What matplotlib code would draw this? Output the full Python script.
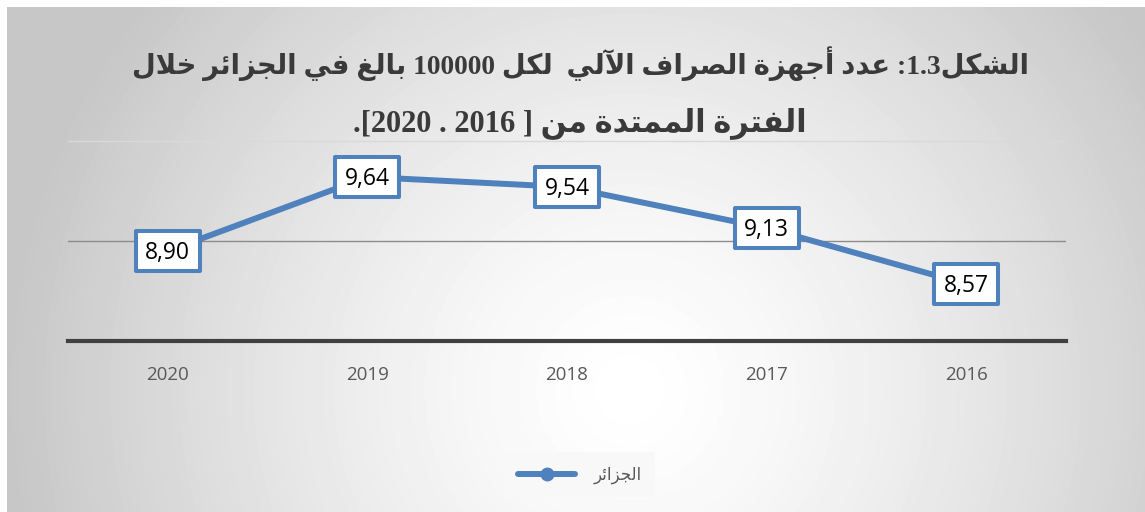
import numpy as np
import matplotlib
matplotlib.use("Agg")
import matplotlib.pyplot as plt
from matplotlib.path import Path
from matplotlib.markers import MarkerStyle

# ---------------- data ----------------
years = ["2020", "2019", "2018", "2017", "2016"]
values = [8.90, 9.64, 9.54, 9.13, 8.57]
value_labels = ["8,90", "9,64", "9,54", "9,13", "8,57"]
series_name = "الجزائر"
title_line1 = ["الشكل", "1.3", ":", " ", "عدد", " ", "أجهزة", " ", "الصراف", " ", "الآلي", "  ",
               "لكل", " ", "100000", " ", "بالغ", " ", "في", " ", "الجزائر", " ", "خلال"]
title_line2 = ["الفترة", " ", "الممتدة", " ", "من", " ", "]", " ", "2016", " . ", "2020", "[", "."]
y_ticks = [8, 9, 10]

# ---------------- minimal Arabic shaping (presentation forms) ----------------
FORMS = {
    "ا": (0xFE8D, 0xFE8E), "أ": (0xFE83, 0xFE84), "آ": (0xFE81, 0xFE82), "إ": (0xFE87, 0xFE88),
    "ب": (0xFE8F, 0xFE90, 0xFE91, 0xFE92), "ة": (0xFE93, 0xFE94),
    "ت": (0xFE95, 0xFE96, 0xFE97, 0xFE98), "ج": (0xFE9D, 0xFE9E, 0xFE9F, 0xFEA0),
    "خ": (0xFEA5, 0xFEA6, 0xFEA7, 0xFEA8), "د": (0xFEA9, 0xFEAA), "ر": (0xFEAD, 0xFEAE),
    "ز": (0xFEAF, 0xFEB0), "ش": (0xFEB5, 0xFEB6, 0xFEB7, 0xFEB8),
    "ص": (0xFEB9, 0xFEBA, 0xFEBB, 0xFEBC), "ع": (0xFEC9, 0xFECA, 0xFECB, 0xFECC),
    "غ": (0xFECD, 0xFECE, 0xFECF, 0xFED0), "ف": (0xFED1, 0xFED2, 0xFED3, 0xFED4),
    "ك": (0xFED9, 0xFEDA, 0xFEDB, 0xFEDC), "ل": (0xFEDD, 0xFEDE, 0xFEDF, 0xFEE0),
    "م": (0xFEE1, 0xFEE2, 0xFEE3, 0xFEE4), "ن": (0xFEE5, 0xFEE6, 0xFEE7, 0xFEE8),
    "ه": (0xFEE9, 0xFEEA, 0xFEEB, 0xFEEC), "ي": (0xFEF1, 0xFEF2, 0xFEF3, 0xFEF4),
    "ئ": (0xFE89, 0xFE8A, 0xFE8B, 0xFE8C), "و": (0xFEED, 0xFEEE),
}
LAMALEF = {"آ": (0xFEF5, 0xFEF6), "أ": (0xFEF7, 0xFEF8), "إ": (0xFEF9, 0xFEFA), "ا": (0xFEFB, 0xFEFC)}


def is_arabic(s):
    return any(c in FORMS for c in s)


def shape(word):
    res = []
    prev_joins = False
    i, n = 0, len(word)
    while i < n:
        c = word[i]
        if c == "ل" and i + 1 < n and word[i + 1] in LAMALEF:
            f = LAMALEF[word[i + 1]]
            res.append(chr(f[1] if prev_joins else f[0]))
            prev_joins = False
            i += 2
            continue
        if c in FORMS:
            f = FORMS[c]
            can_next = len(f) == 4 and i + 1 < n and word[i + 1] in FORMS
            if prev_joins and can_next:
                g = f[3]
            elif prev_joins:
                g = f[1]
            elif can_next:
                g = f[2]
            else:
                g = f[0]
            res.append(chr(g))
            prev_joins = len(f) == 4
        else:
            res.append(c)
            prev_joins = False
        i += 1
    return "".join(reversed(res))


def rtl(tokens):
    return "".join(shape(t) if is_arabic(t) else t for t in reversed(tokens))


# ---------------- figure ----------------
W, H = 1145, 512
fig = plt.figure(figsize=(W / 100, H / 100), dpi=100)
fig.patch.set_facecolor("white")

# radial gradient background
x0, y0 = 7, 7
bg = fig.add_axes([x0 / W, 0, 1 - x0 / W, 1 - y0 / H])
bg.axis("off")
yy, xx = np.mgrid[y0:H, x0:W]
cx, cy, sx, sy = 630, 390, 620, 620
d = np.clip(np.sqrt(((xx - cx) / sx) ** 2 + ((yy - cy) / sy) ** 2), 0, 1)
g = 1 - 0.22 * d ** 1.4
bg.imshow(g, cmap="gray", vmin=0, vmax=1, aspect="auto", extent=[0, 1, 0, 1], interpolation="bilinear")
bg.set_xlim(0, 1)
bg.set_ylim(0, 1)

# plot area
ax = fig.add_axes([68 / W, (H - 341) / H, (1066 - 68) / W, 200 / H])
ax.patch.set_alpha(0)
x = np.arange(len(years))
ax.set_xlim(-0.5, len(years) - 0.5)
ax.set_ylim(y_ticks[0], y_ticks[-1])
for s in ["top", "left", "right"]:
    ax.spines[s].set_visible(False)
ax.spines["bottom"].set_color("#404040")
ax.spines["bottom"].set_linewidth(3)
ax.set_yticks(y_ticks)
ax.set_yticklabels([])
ax.tick_params(axis="y", length=0)
ax.axhline(y_ticks[1], color="#8c8c8c", lw=1.0, zorder=1)
ax.axhline(y_ticks[2], color="#d9d9d9", lw=1.0, zorder=1, clip_on=False)

ax.set_xticks(x)
ax.set_xticklabels(years, fontsize=13.5, color="#595959", family="Open Sans")
ax.tick_params(axis="x", length=0, pad=18)

blue = "#4F81BD"
line, = ax.plot(x, values, color=blue, lw=4.3, marker="o", ms=9, zorder=3,
                solid_capstyle="round", label=shape(series_name))

rect = Path([(-1, -0.64), (1, -0.64), (1, 0.64), (-1, 0.64), (-1, -0.64)],
            [Path.MOVETO, Path.LINETO, Path.LINETO, Path.LINETO, Path.CLOSEPOLY])
ax.plot(x, values, ls="none", marker=MarkerStyle(rect, joinstyle="round"), ms=46,
        mfc="white", mec=blue, mew=2.9, zorder=4, clip_on=False)

label_fs = 16.5
for xi, v, lab in zip(x, values, value_labels):
    ax.annotate(lab, (xi, v), xytext=(0, -0.357 * label_fs), textcoords="offset points",
                ha="center", va="baseline", fontsize=label_fs, family="Open Sans",
                color="black", zorder=5, annotation_clip=False)

# title
title_kw = dict(ha="center", va="baseline", fontweight="bold", color="#3a3a3a",
                family=["Liberation Serif", "DejaVu Sans"])
fig.text(581 / W, 1 - 74 / H, rtl(title_line1), fontsize=19.8, **title_kw)
fig.text(580 / W, 1 - 131 / H, rtl(title_line2), fontsize=22, **title_kw)

# legend
leg = ax.legend(handles=[line], loc="center", bbox_to_anchor=(580 / W, 1 - 474.5 / H),
                bbox_transform=fig.transFigure, frameon=True, fancybox=False,
                handlelength=3.4, borderpad=0.8, handletextpad=1.1,
                prop={"family": "DejaVu Sans", "size": 12})
leg.get_frame().set_facecolor("#f8f8f8")
leg.get_frame().set_edgecolor("none")
leg.get_frame().set_alpha(1)
for t in leg.get_texts():
    t.set_color("#595959")

fig.savefig("out.png", dpi=100)
